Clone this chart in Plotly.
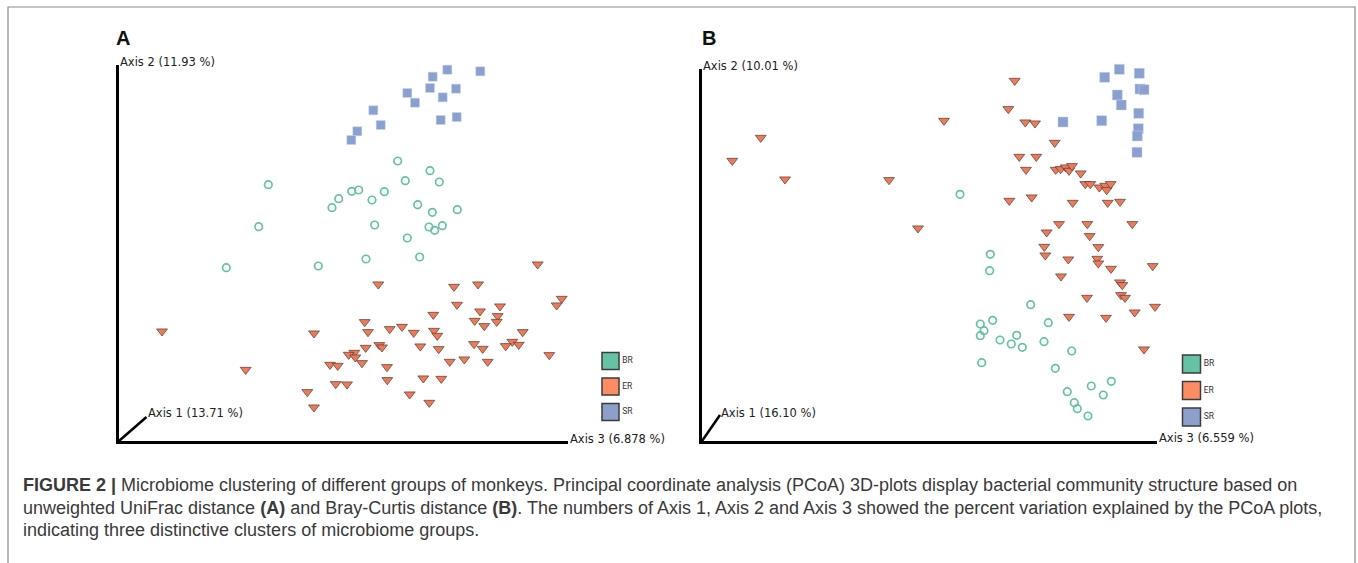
import plotly.graph_objects as go

W, H = 1358, 563

# ---------------- data (projected PCoA coordinates) ----------------
groups = ["BR", "ER", "SR"]
group_colors = ["#66c2a5", "#fc8d62", "#8da0cb"]

# Panel A: unweighted UniFrac
a_br_x = [278.7, 311.0, 286.3, 320.3, 149.3, 239.7, 232.7, 265.3, 219.7, 253.0, 298.7, 213.0,
          313.3, 338.3, 139.7, 255.7, 310.0, 315.7, 323.3, 288.3, 107.3, 199.3, 247.0, 300.7]
a_br_y = [280.0, 270.3, 260.3, 259.0, 256.3, 251.0, 249.7, 249.3, 242.3, 241.0, 236.3, 233.3,
          228.7, 231.3, 214.3, 216.0, 214.0, 210.7, 215.3, 203.0, 173.3, 175.0, 182.0, 184.0]
a_er_x = [418.7, 259.3, 335.0, 359.0, 442.7, 457.0, 437.7, 338.0, 361.0, 381.0, 314.3, 378.7,
          377.7, 355.7, 365.3, 245.7, 43.0, 195.0, 249.0, 270.7, 283.0, 294.7, 315.0, 318.3,
          403.7, 393.3, 399.7, 386.7, 355.0, 363.7, 301.3, 319.7, 260.3, 263.0, 246.7, 235.3,
          229.7, 236.3, 243.0, 211.0, 218.7, 268.0, 330.7, 345.3, 368.7, 430.3, 126.7, 268.3,
          304.3, 322.3, 216.7, 228.0, 188.3, 290.7, 195.0, 310.3]
a_er_y = [176.7, 156.7, 154.3, 156.7, 142.3, 143.0, 135.7, 136.3, 129.7, 134.7, 126.3, 125.0,
          119.3, 120.3, 115.0, 119.0, 109.7, 107.7, 109.0, 112.0, 114.3, 108.3, 110.3, 105.3,
          109.0, 99.3, 96.3, 95.0, 97.0, 92.3, 94.7, 92.0, 96.0, 93.7, 93.3, 88.3,
          86.3, 83.7, 78.0, 76.3, 75.3, 74.0, 79.3, 81.7, 79.3, 86.0, 71.3, 61.0,
          62.7, 62.3, 57.0, 56.7, 49.0, 46.7, 33.7, 38.3]
a_sr_x = [278.7, 328.3, 361.3, 313.7, 311.0, 337.0, 288.3, 323.7, 296.0, 254.3, 337.7, 321.7,
          261.7, 238.3, 232.3]
a_sr_y = [379.0, 371.3, 369.7, 364.3, 353.0, 352.3, 348.0, 343.7, 338.3, 330.7, 324.0, 321.0,
          316.0, 309.7, 301.0]

# Panel B: Bray-Curtis
b_br_x = [258.0, 288.3, 287.7, 328.7, 290.7, 278.3, 282.0, 278.3, 346.3, 298.0, 314.7, 309.3,
          320.3, 342.0, 369.7, 279.7, 353.3, 409.3, 389.3, 401.3, 365.3, 372.3, 375.3, 386.0]
b_br_y = [246.7, 186.7, 170.3, 136.3, 120.7, 117.0, 110.3, 105.3, 118.3, 101.0, 105.7, 97.0,
          93.7, 99.3, 90.0, 78.3, 72.7, 59.7, 55.0, 46.0, 49.3, 38.3, 32.3, 25.0]
b_er_x = [312.7, 306.3, 242.0, 323.3, 333.0, 58.7, 352.7, 30.3, 317.3, 334.3, 324.0, 83.0,
          187.0, 353.7, 358.7, 363.7, 367.0, 370.0, 378.7, 383.3, 388.3, 397.3, 403.3, 404.7,
          408.7, 307.3, 329.7, 370.7, 405.7, 418.0, 216.0, 357.0, 385.3, 430.3, 344.7, 387.7,
          342.3, 396.3, 343.3, 366.3, 395.3, 396.3, 409.0, 450.7, 359.0, 418.0, 420.3, 419.0,
          423.0, 385.0, 432.7, 453.0, 367.0, 404.0, 442.0]
b_er_y = [360.3, 332.0, 320.3, 318.7, 317.7, 303.3, 298.3, 280.3, 284.3, 284.3, 271.3, 261.7,
          261.0, 271.3, 272.0, 273.7, 270.3, 275.0, 267.7, 257.0, 257.0, 253.7, 255.3, 251.0,
          257.0, 240.3, 243.7, 238.3, 238.3, 239.3, 212.7, 217.0, 217.0, 217.0, 208.7, 205.0,
          194.3, 194.0, 185.7, 181.7, 182.3, 177.7, 172.3, 175.0, 164.7, 158.7, 156.0, 146.0,
          143.3, 143.3, 128.7, 134.3, 124.3, 123.3, 91.7]
b_sr_x = [422.3, 417.3, 430.7, 437.3, 402.7, 438.0, 442.0, 415.3, 419.3, 436.7, 361.0, 399.7,
          436.3, 435.3, 435.0]
b_sr_y = [378.3, 371.7, 373.3, 367.7, 363.7, 352.0, 351.3, 346.0, 336.0, 327.7, 319.0, 320.3,
          312.3, 305.0, 288.7]

axis_labels_a = ["Axis 1 (13.71 %)", "Axis 2 (11.93 %)", "Axis 3 (6.878 %)"]
axis_labels_b = ["Axis 1 (16.10 %)", "Axis 2 (10.01 %)", "Axis 3 (6.559 %)"]

caption_lines = [
    "<b>FIGURE 2 |</b> Microbiome clustering of different groups of monkeys. Principal coordinate analysis (PCoA) 3D-plots display bacterial community structure based on",
    "unweighted UniFrac distance <b>(A)</b> and Bray-Curtis distance <b>(B)</b>. The numbers of Axis 1, Axis 2 and Axis 3 showed the percent variation explained by the PCoA plots,",
    "indicating three distinctive clusters of microbiome groups.",
]

# ---------------- helpers ----------------
def dx(a, b):
    return [a / W, b / W]

def dy(top, bottom):
    return [1 - bottom / H, 1 - top / H]

def px_x(p):
    return p / W

def px_y(p):
    return 1 - p / H

fig = go.Figure()

panels = [
    dict(x="x", y="y", ox=119, oy=441, top=65, right=568, diag=(27.5, 24),
         data=[(a_br_x, a_br_y), (a_er_x, a_er_y), (a_sr_x, a_sr_y)],
         labels=axis_labels_a, sq=9, lab1=(146, 413), lab3y=439, lab2y=62,
         leg=dict(cx=610.5, top=348.25, bottom=424.75, size=17), letter="A", letter_x=114),
    dict(x="x2", y="y2", ox=702, oy=441, top=69, right=1157, diag=(18, 26),
         data=[(b_br_x, b_br_y), (b_er_x, b_er_y), (b_sr_x, b_sr_y)],
         labels=axis_labels_b, sq=10, lab1=(719, 413), lab3y=438, lab2y=66,
         leg=dict(cx=1191.5, top=350.75, bottom=430.25, size=18), letter="B", letter_x=700),
]

layout_axes = {}
shapes = []
annotations = []

for i, p in enumerate(panels):
    xa = p["x"]; ya = p["y"]
    xname = "xaxis" if xa == "x" else "xaxis" + xa[1:]
    yname = "yaxis" if ya == "y" else "yaxis" + ya[1:]
    layout_axes[xname] = dict(domain=dx(p["ox"], p["right"]), range=[0, p["right"] - p["ox"]],
                              anchor=ya, showgrid=False, zeroline=False, showticklabels=False,
                              ticks="", showline=True, linecolor="black", linewidth=3)
    layout_axes[yname] = dict(domain=dy(p["top"], p["oy"]), range=[0, p["oy"] - p["top"]],
                              anchor=xa, showgrid=False, zeroline=False, showticklabels=False,
                              ticks="", showline=True, linecolor="black", linewidth=3)
    (brx, bry), (erx, ery), (srx, sry) = p["data"]
    fig.add_trace(go.Scatter(x=brx, y=bry, xaxis=xa, yaxis=ya, mode="markers", cliponaxis=False,
                             showlegend=False, name="BR",
                             marker=dict(symbol="circle-open", size=7.5, color=group_colors[0],
                                         line=dict(width=1.7, color=group_colors[0]))))
    fig.add_trace(go.Scatter(x=erx, y=ery, xaxis=xa, yaxis=ya, mode="markers", cliponaxis=False,
                             showlegend=False, name="ER",
                             marker=dict(symbol="triangle-down", size=9.5, color="#ec7b5c",
                                         line=dict(width=0.7, color="#5a3a30"))))
    fig.add_trace(go.Scatter(x=srx, y=sry, xaxis=xa, yaxis=ya, mode="markers", cliponaxis=False,
                             showlegend=False, name="SR",
                             marker=dict(symbol="square", size=p["sq"], color="#8aa0d0",
                                         line=dict(width=0.5, color="#c8d2ea"))))
    # diagonal axis (Axis 1)
    shapes.append(dict(type="line", xref=xa, yref=ya, x0=0, y0=0, x1=p["diag"][0], y1=p["diag"][1],
                       line=dict(color="black", width=2.5)))
    lab_font = dict(family="DejaVu Sans", size=11.5, color="#222")
    annotations.append(dict(text=p["labels"][1], xref="paper", yref="paper", x=px_x(p["ox"] - 1),
                            y=px_y(p["lab2y"]), xanchor="left", yanchor="middle", showarrow=False,
                            font=lab_font))
    annotations.append(dict(text=p["labels"][0], xref="paper", yref="paper", x=px_x(p["lab1"][0]),
                            y=px_y(p["lab1"][1]), xanchor="left", yanchor="middle", showarrow=False,
                            font=lab_font))
    annotations.append(dict(text=p["labels"][2], xref="paper", yref="paper", x=px_x(p["right"]),
                            y=px_y(p["lab3y"]), xanchor="left", yanchor="middle", showarrow=False,
                            font=lab_font))
    annotations.append(dict(text="<b>%s</b>" % p["letter"], xref="paper", yref="paper",
                            x=px_x(p["letter_x"]), y=px_y(38.5), xanchor="left", yanchor="middle",
                            showarrow=False,
                            font=dict(family="Liberation Sans", size=20, color="#111")))
    # legend on its own small axis
    lg = p["leg"]
    lx = "x%d" % (i + 3); ly = "y%d" % (i + 3)
    layout_axes["xaxis%d" % (i + 3)] = dict(domain=dx(lg["cx"] - 12.5, lg["cx"] + 50),
                                            range=[-12.5, 50], anchor=ly, visible=False)
    layout_axes["yaxis%d" % (i + 3)] = dict(domain=dy(lg["top"], lg["bottom"]), type="category",
                                            categoryorder="array", categoryarray=groups,
                                            range=[2.5, -0.5], anchor=lx, visible=False)
    fig.add_trace(go.Scatter(x=[0] * len(groups), y=groups, xaxis=lx, yaxis=ly,
                             mode="markers+text", text=groups, textposition="middle right",
                             cliponaxis=False, showlegend=False,
                             textfont=dict(family="Roboto", size=8.5, color="#333"),
                             marker=dict(symbol="square", size=lg["size"], color=group_colors,
                                         line=dict(width=1.5, color="#3c3c3c"))))

for j, line in enumerate(caption_lines):
    annotations.append(dict(text=line, xref="paper", yref="paper", x=px_x(21),
                            y=px_y(485 + 22.5 * j), xanchor="left", yanchor="middle",
                            showarrow=False,
                            font=dict(family="Liberation Sans", size=18, color="#3a3a3a")))

# outer figure frame
shapes.append(dict(type="rect", xref="paper", yref="paper", x0=px_x(8), x1=px_x(1355),
                   y0=-0.05, y1=px_y(7), line=dict(color="#8c8c8c", width=1.2)))

fig.update_layout(width=W, height=H, margin=dict(l=0, r=0, t=0, b=0),
                  paper_bgcolor="white", plot_bgcolor="rgba(0,0,0,0)",
                  shapes=shapes, annotations=annotations, **layout_axes)

# remove the default 8px page margin so the figure sits at the window's top-left corner
fig.write_html("out.html", config={"displayModeBar": False},
               post_script="document.body.style.margin='0px';")
